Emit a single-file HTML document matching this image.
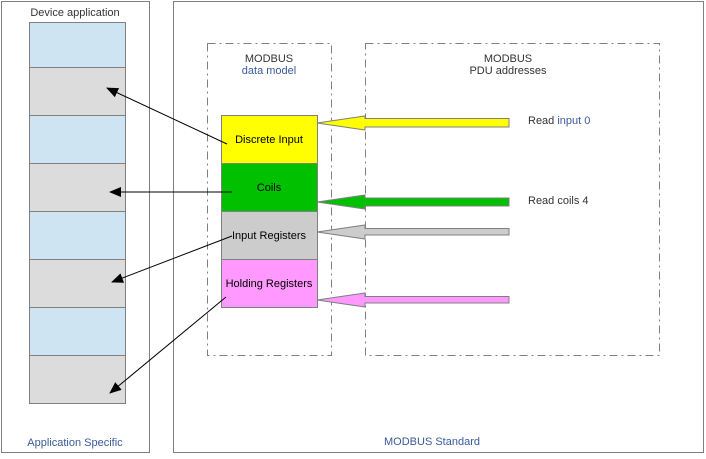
<!DOCTYPE html>
<html><head><style>
body{margin:0;width:706px;height:454px;background:#fff;font-family:"Liberation Sans",sans-serif;overflow:hidden}
</style></head><body>
<svg width="706" height="454" xmlns="http://www.w3.org/2000/svg" font-family="Liberation Sans, sans-serif" font-size="11">
<defs><marker id="ah" markerWidth="12" markerHeight="10" refX="11" refY="5" orient="auto" markerUnits="userSpaceOnUse"><path d="M0,0 L12,5 L0,10 z" fill="#000"/></marker></defs>
<rect x="1.5" y="1.5" width="148" height="451" fill="none" stroke="#808080"/>
<rect x="173.5" y="1.5" width="530" height="451" fill="none" stroke="#808080"/>
<text x="75" y="16" text-anchor="middle" fill="#333">Device application</text>
<g stroke="#808080">
<rect x="29.5" y="22.5" width="96" height="45" fill="#cfe4f2"/>
<rect x="29.5" y="67.5" width="96" height="48" fill="#dcdcdc"/>
<rect x="29.5" y="115.5" width="96" height="48" fill="#cfe4f2"/>
<rect x="29.5" y="163.5" width="96" height="48" fill="#dcdcdc"/>
<rect x="29.5" y="211.5" width="96" height="48" fill="#cfe4f2"/>
<rect x="29.5" y="259.5" width="96" height="48" fill="#dcdcdc"/>
<rect x="29.5" y="307.5" width="96" height="48" fill="#cfe4f2"/>
<rect x="29.5" y="355.5" width="96" height="48" fill="#dcdcdc"/>
</g>
<rect x="207.5" y="43.5" width="124" height="312" fill="none" stroke="#808080" stroke-dasharray="8,4,2,4"/>
<rect x="365.5" y="43.5" width="294" height="312" fill="none" stroke="#808080" stroke-dasharray="8,4,2,4"/>
<text x="269" y="62" text-anchor="middle" fill="#333">MODBUS</text>
<text x="269" y="74" text-anchor="middle" fill="#3a5a9a">data model</text>
<text x="508" y="62" text-anchor="middle" fill="#333">MODBUS</text>
<text x="508" y="74" text-anchor="middle" fill="#333">PDU addresses</text>
<g stroke="#808080">
<rect x="221.5" y="115.5" width="96" height="48" fill="#ffff00"/>
<rect x="221.5" y="163.5" width="96" height="48" fill="#00c000"/>
<rect x="221.5" y="211.5" width="96" height="48" fill="#cccccc"/>
<rect x="221.5" y="259.5" width="96" height="48" fill="#ff99ff"/>
</g>
<text x="269" y="143" text-anchor="middle" fill="#000">Discrete Input</text>
<text x="269" y="191" text-anchor="middle" fill="#000">Coils</text>
<text x="269" y="239" text-anchor="middle" fill="#000">Input Registers</text>
<text x="269" y="287" text-anchor="middle" fill="#000">Holding Registers</text>
<g stroke="#808080">
<path d="M317,123 L365,116 L365,118.5 L509,118.5 L509,127 L365,127 L365,130 z" fill="#ffff00"/>
<path d="M317,202 L365,195 L365,198 L509,198 L509,206 L365,206 L365,209 z" fill="#00c000"/>
<path d="M317,232 L365,225 L365,228.5 L509,228.5 L509,235 L365,235 L365,239 z" fill="#cccccc"/>
<path d="M317,300 L365,293 L365,296.5 L509,296.5 L509,303 L365,303 L365,307 z" fill="#ff99ff"/>
</g>
<text x="528" y="124" fill="#333">Read <tspan fill="#3a5a9a">input 0</tspan></text>
<text x="528" y="204" fill="#333">Read coils 4</text>
<g stroke="#000" stroke-width="1" marker-end="url(#ah)">
<line x1="227" y1="144" x2="107" y2="88"/>
<line x1="232" y1="192" x2="110" y2="192"/>
<line x1="232" y1="236" x2="112" y2="282"/>
<line x1="226" y1="297" x2="110" y2="393"/>
</g>
<text x="75" y="446" text-anchor="middle" fill="#3a5a9a">Application Specific</text>
<text x="432" y="445" text-anchor="middle" fill="#3a5a9a">MODBUS Standard</text>
</svg>
</body></html>
